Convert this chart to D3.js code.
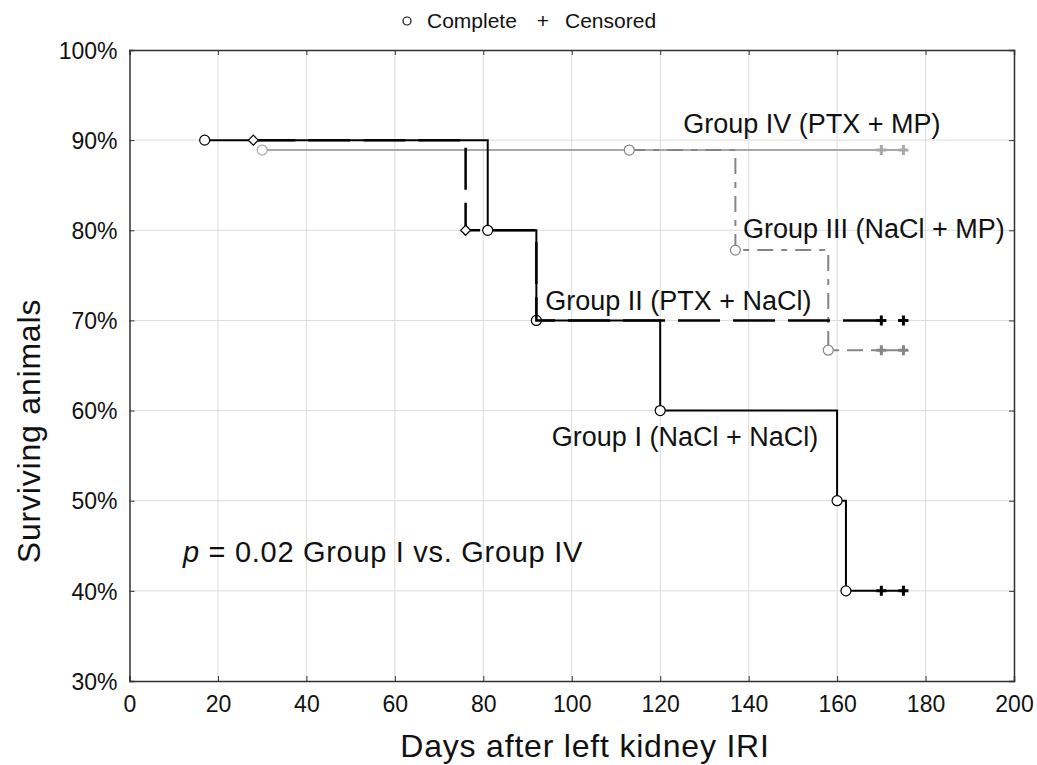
<!DOCTYPE html>
<html><head><meta charset="utf-8">
<script src="https://cdn.jsdelivr.net/npm/d3@7"></script>
<style>
body{margin:0;background:#fff;}
svg{display:block;font-family:"Liberation Sans",Arial,sans-serif;}
</style></head>
<body><svg id="c" width="1037" height="765"></svg>
<script>
// ---- data ----
const xTicks = [0,20,40,60,80,100,120,140,160,180,200];
const yTicks = [30,40,50,60,70,80,90,100];
const groupI_time = [17, 81, 92, 120, 160, 162, 175];
const groupI_surv = [90, 80, 70, 60, 50, 40, 40];
const groupI_complete = [17, 81, 92, 120, 160, 162];
const groupI_censored = [170, 175];

const groupII_time = [28, 76, 92, 175];
const groupII_surv = [90, 80, 70, 70];
const groupII_complete = [28, 76];
const groupII_censored = [170, 175];

const groupIII_time = [113, 137, 158, 175];
const groupIII_surv = [88.9, 77.8, 66.7, 66.7];
const groupIII_complete = [113, 137, 158];
const groupIII_censored = [170, 175];

const groupIV_time = [30, 175];
const groupIV_surv = [88.9, 88.9];
const groupIV_complete = [30];
const groupIV_censored = [170, 175];

const labels = ["Group IV (PTX + MP)","Group III (NaCl + MP)","Group II (PTX + NaCl)","Group I (NaCl + NaCl)"];

// ---- chart ----
const svg = d3.select("#c");
const L=129.5, R=1014, T=50, B=681;
const x = d3.scaleLinear().domain([0,200]).range([L,R]);
const y = d3.scaleLinear().domain([30,100]).range([B,T]);

// grid
const g = svg.append("g");
g.selectAll(".vx").data(xTicks.slice(1,-1)).join("line")
  .attr("x1",d=>x(d)).attr("x2",d=>x(d)).attr("y1",T).attr("y2",B)
  .attr("stroke","#dcdcdc").attr("stroke-width",1);
g.selectAll(".hy").data(yTicks.slice(1,-1)).join("line")
  .attr("x1",L).attr("x2",R).attr("y1",d=>y(d)).attr("y2",d=>y(d))
  .attr("stroke","#dcdcdc").attr("stroke-width",1);

// axes (inward ticks on all sides)
const fmtPct = d=>d+"%";
const axB = svg.append("g").attr("transform",`translate(0,${B})`)
  .call(d3.axisBottom(x).tickValues(xTicks).tickSize(-5).tickPadding(15));
const axT = svg.append("g").attr("transform",`translate(0,${T})`)
  .call(d3.axisTop(x).tickValues(xTicks).tickSize(-5).tickFormat(""));
const axL = svg.append("g").attr("transform",`translate(${L},0)`)
  .call(d3.axisLeft(y).tickValues(yTicks).tickSize(-5).tickPadding(12).tickFormat(fmtPct));
const axR = svg.append("g").attr("transform",`translate(${R},0)`)
  .call(d3.axisRight(y).tickValues(yTicks).tickSize(-5).tickFormat(""));
[axB,axT,axL,axR].forEach(a=>{
  a.select(".domain").attr("stroke","#333").attr("stroke-width",1.5);
  a.selectAll(".tick line").attr("stroke","#333");
  a.selectAll("text").attr("font-size",23).attr("fill","#111").attr("font-family","Liberation Sans, Arial, sans-serif");
});
axL.selectAll("text").attr("dy","0.36em");

// curves
const lineGen = d3.line().curve(d3.curveStepAfter).x(d=>x(d[0])).y(d=>y(d[1]));
function drawGroup(times, surv, complete, censored, color, width, dash, marker){
  const pts = times.map((t,i)=>[t,surv[i]]);
  const gg = svg.append("g");
  gg.append("path").attr("d",lineGen(pts)).attr("fill","none")
    .attr("stroke",color).attr("stroke-width",width)
    .attr("stroke-dasharray",dash||null);
  const survAt = t=>{let s=surv[0];times.forEach((tt,i)=>{if(tt<=t)s=surv[i];});return s;};
  complete.forEach(t=>{
    const cx=x(t), cy=y(survAt(t));
    if(marker==="diamond"){
      gg.append("path").attr("d",`M${cx},${cy-5}L${cx+5},${cy}L${cx},${cy+5}L${cx-5},${cy}Z`)
        .attr("fill","#fff").attr("stroke",color).attr("stroke-width",1.2);
    } else {
      gg.append("circle").attr("cx",cx).attr("cy",cy).attr("r",5)
        .attr("fill","#fff").attr("stroke",color).attr("stroke-width",1.2);
    }
  });
  censored.forEach(t=>{
    const cx=x(t), cy=y(survAt(t));
    gg.append("path").attr("d",`M${cx-5},${cy}H${cx+5}M${cx},${cy-5}V${cy+5}`)
      .attr("stroke",color).attr("stroke-width",3);
  });
}
drawGroup(groupIV_time, groupIV_surv, groupIV_complete, groupIV_censored, "#a8a8a8", 2, null, "circle");
drawGroup(groupIII_time, groupIII_surv, groupIII_complete, groupIII_censored, "#858585", 2, "16,8,6,8", "circle");
drawGroup(groupI_time, groupI_surv, groupI_complete, groupI_censored, "#000", 2, null, "circle");
drawGroup(groupII_time, groupII_surv, groupII_complete, groupII_censored, "#000", 2.5, "42,13", "diamond");

// group labels (anchored at data coords)
const labelPos = [[125.2,90.8],[138.7,79.1],[94.0,71.2],[95.5,56.1]];
labels.forEach((t,i)=>{
  svg.append("text").attr("x",x(labelPos[i][0])).attr("y",y(labelPos[i][1]))
    .attr("font-size",27).attr("fill","#111").text(t);
});

// p-value annotation
const pt = svg.append("text").attr("x",x(12.1)).attr("y",y(43.2)).attr("font-size",29)
  .attr("letter-spacing",0.7).attr("fill","#111");
pt.append("tspan").attr("font-style","italic").text("p");
pt.append("tspan").text(" = 0.02 Group I vs. Group IV");

// axis titles
svg.append("text").attr("x",585).attr("y",757).attr("text-anchor","middle")
  .attr("font-size",32).attr("letter-spacing",0.8).attr("fill","#111").text("Days after left kidney IRI");
svg.append("text").attr("transform","translate(40,431) rotate(-90)").attr("text-anchor","middle")
  .attr("font-size",32).attr("letter-spacing",0.8).attr("fill","#111").text("Surviving animals");

// legend
const lg = svg.append("g");
lg.append("circle").attr("cx",407).attr("cy",21).attr("r",4).attr("fill","#fff").attr("stroke","#111").attr("stroke-width",1.2);
lg.append("text").attr("x",427).attr("y",28).attr("font-size",21).attr("fill","#111").text("Complete");
lg.append("text").attr("x",543).attr("y",28).attr("text-anchor","middle").attr("font-size",21).attr("fill","#111").text("+");
lg.append("text").attr("x",565).attr("y",28).attr("font-size",21).attr("fill","#111").text("Censored");
</script></body></html>
